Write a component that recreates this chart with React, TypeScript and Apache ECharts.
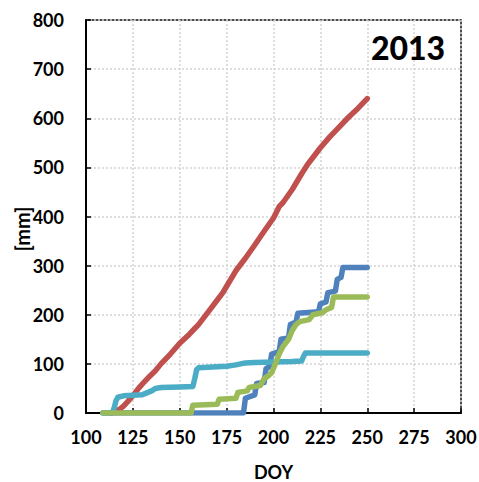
import React, { useEffect, useRef } from "react";
import * as echarts from "echarts";

const xTicks = [100, 125, 150, 175, 200, 225, 250, 275, 300];
const yTicks = [0, 100, 200, 300, 400, 500, 600, 700, 800];

const redDoy = [113, 116, 118, 120, 122, 125, 128, 131, 134, 137, 140, 145, 150, 155, 158, 160, 165, 170, 173, 175, 180, 185, 190, 195, 200, 203, 205, 210, 215, 218, 220, 225, 230, 235, 240, 245, 250];
const redMm = [0, 3, 8, 14, 22, 35, 50, 63, 75, 86, 100, 120, 142, 160, 172, 180, 205, 230, 245, 258, 290, 315, 342, 370, 397, 420, 428, 455, 487, 505, 515, 540, 562, 582, 602, 620, 640];

const blueDoy = [109, 184, 185, 190, 191, 195, 196, 198, 199, 203, 204, 208, 209, 212, 213, 224, 225, 228, 229, 233, 234, 236, 237, 250];
const blueMm = [0, 0, 30, 37, 60, 62, 90, 95, 120, 125, 150, 153, 180, 185, 203, 206, 222, 226, 245, 248, 272, 276, 296, 296];

const cyanDoy = [109, 114, 115, 116, 117, 120, 125, 130, 133, 135, 137, 140, 150, 157, 158, 159, 160, 165, 170, 175, 180, 185, 190, 200, 210, 215, 216, 217, 230, 250];
const cyanMm = [0, 0, 10, 25, 32, 35, 36, 37, 42, 45, 50, 52, 53, 54, 70, 88, 92, 93, 94, 95, 98, 102, 103, 104, 105, 106, 115, 122, 122, 122];

const greenDoy = [109, 156, 157, 170, 171, 180, 181, 186, 187, 193, 195, 197, 199, 201, 203, 205, 208, 210, 212, 214, 219, 221, 226, 228, 231, 232, 250];
const greenMm = [0, 0, 16, 18, 28, 30, 42, 45, 52, 56, 70, 75, 82, 100, 120, 135, 150, 168, 180, 186, 190, 200, 204, 210, 215, 236, 236];

const pairs = (xs: number[], ys: number[]) => xs.map((x, i) => [x, ys[i]]);

const FONT = "Lato";

export default function App() {
  const ref = useRef<HTMLDivElement>(null);
  useEffect(() => {
    const chart = echarts.init(ref.current!, undefined, { renderer: "svg" });
    const mkSeries = (name: string, data: number[][], color: string) => ({
      name,
      type: "line",
      data,
      showSymbol: false,
      symbol: "none",
      lineStyle: { color, width: 5.5, cap: "round", join: "round" },
      itemStyle: { color },
    });
    chart.setOption({
      animation: false,
      grid: {
        left: 86,
        right: 18,
        top: 20,
        bottom: 69,
        outerBoundsMode: "none",
        containLabel: false,
        show: true,
        borderColor: "#111",
        borderWidth: 1.5,
        backgroundColor: "#fff",
      },
      xAxis: {
        type: "value",
        min: xTicks[0],
        max: xTicks[xTicks.length - 1],
        interval: 25,
        name: "DOY",
        nameLocation: "middle",
        nameGap: 50,
        nameTextStyle: { fontFamily: FONT, fontWeight: "bold", fontSize: 18, color: "#000" },
        axisLine: { show: true, lineStyle: { color: "#000", width: 2 } },
        axisTick: { show: true, inside: true, length: 5, lineStyle: { color: "#000", width: 1.5 } },
        axisLabel: { fontFamily: FONT, fontWeight: "bold", fontSize: 18, color: "#000", margin: 15 },
        splitLine: { show: true, lineStyle: { color: "#d4d4d4", width: 1.5, type: [2, 2] } },
      },
      yAxis: {
        type: "value",
        min: yTicks[0],
        max: yTicks[yTicks.length - 1],
        interval: 100,
        axisLine: { show: true, lineStyle: { color: "#000", width: 2 } },
        axisTick: { show: true, inside: true, length: 5, lineStyle: { color: "#000", width: 1.5 } },
        axisLabel: { fontFamily: FONT, fontWeight: "bold", fontSize: 18, color: "#000", margin: 22 },
        splitLine: { show: true, lineStyle: { color: "#d4d4d4", width: 1.5, type: [2, 2] } },
      },
      graphic: [
        {
          type: "text",
          x: 22,
          y: 229,
          rotation: Math.PI / 2,
          style: {
            text: "[mm]",
            fontFamily: FONT,
            fontWeight: "bold",
            fontSize: 20,
            fill: "#000",
            align: "center",
            verticalAlign: "middle",
          },
        },
        {
          type: "text",
          x: 408,
          y: 47,
          z: 100,
          style: {
            text: "2013",
            fontFamily: FONT,
            fontWeight: 900,
            fontSize: 32,
            fill: "#000",
            align: "center",
            verticalAlign: "middle",
          },
        },
      ],
      series: [
        mkSeries("blue", pairs(blueDoy, blueMm), "#4F81BD"),
        mkSeries("red", pairs(redDoy, redMm), "#C0504D"),
        mkSeries("cyan", pairs(cyanDoy, cyanMm), "#4BACC6"),
        mkSeries("green", pairs(greenDoy, greenMm), "#9BBB59"),
      ],
    });
    return () => chart.dispose();
  }, []);
  return (
    <div
      ref={ref}
      style={{ position: "fixed", left: 0, top: 0, width: 479, height: 482, background: "#fff" }}
    />
  );
}
